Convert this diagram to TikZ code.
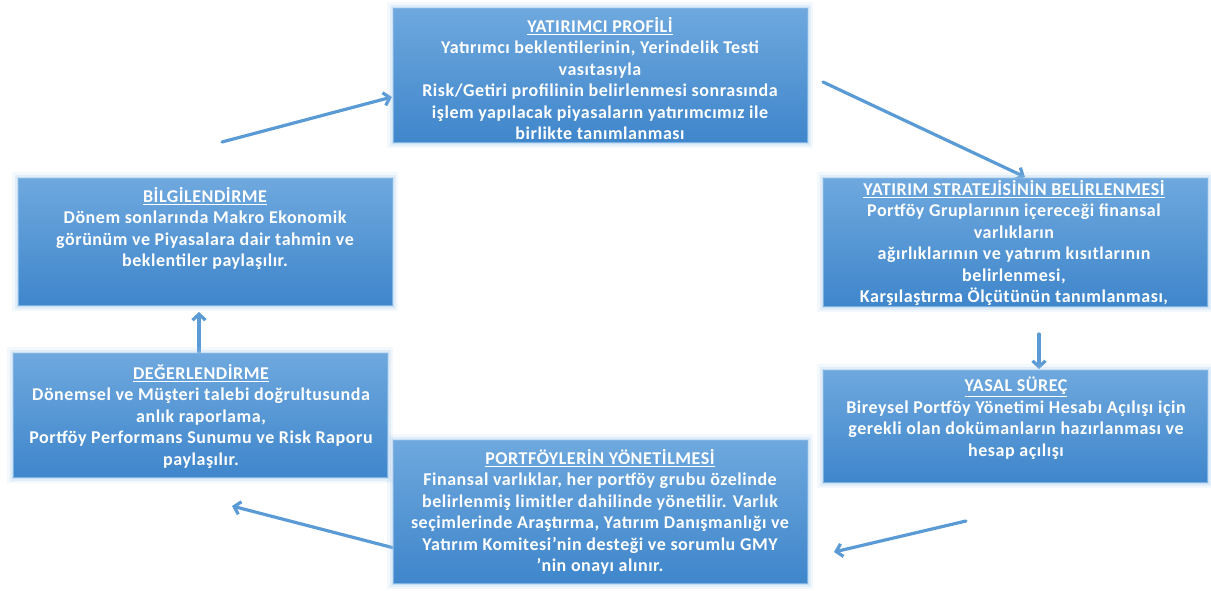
\documentclass[tikz,border=0pt]{standalone}
\usepackage{fontspec}
\setmainfont{Carlito}[LetterSpace=3]
\usetikzlibrary{arrows.meta,calc,backgrounds}
\definecolor{boxtop}{HTML}{6EA8DE}
\definecolor{boxbot}{HTML}{3F86CB}
\definecolor{boxedge}{HTML}{7DB2E3}
\definecolor{glow}{HTML}{9CC3E8}
\definecolor{arrowc}{HTML}{5B9BD5}
\begin{document}
\begin{tikzpicture}[x=1pt,y=-1pt,
  box/.style={rectangle, anchor=north west, inner sep=0pt, top color=boxtop, bottom color=boxbot,
    draw=boxedge, line width=0.6pt,
    preaction={draw=glow, line width=12pt, draw opacity=0.12},
    preaction={draw=glow, line width=7pt, draw opacity=0.2},
    preaction={draw=glow, line width=3pt, draw opacity=0.35}},
  txt/.style={anchor=north, text=white, font=\bfseries\fontsize{18}{21.5}\selectfont, align=center, inner sep=0pt},
  arr/.style={draw=arrowc, line width=3.2pt, line cap=round, -{Straight Barb[length=6pt,width=13pt]}}]
\useasboundingbox (0,0) rectangle (1211,591);

% boxes
\node[box, minimum width=414pt, minimum height=134pt] (prof) at (393,8) {};
\node[box, minimum width=384pt, minimum height=128pt] (strat) at (823,178) {};
\node[box, minimum width=374pt, minimum height=127pt] (bilgi) at (18,178) {};
\node[box, minimum width=374pt, minimum height=124pt] (deger) at (13,353) {};
\node[box, minimum width=384pt, minimum height=112pt] (yasal) at (823,370) {};
\node[box, minimum width=414pt, minimum height=143pt] (port) at (393,440) {};

% texts
\node[txt] (proft) at (600,17) {\underline{YATIRIMCI PROFİLİ}\\Yatırımcı beklentilerinin, Yerindelik Testi\\vasıtasıyla\\Risk/Getiri profilinin belirlenmesi sonrasında\\işlem yapılacak piyasaların yatırımcımız ile\\birlikte tanımlanması};
\node[txt] (stratt) at (1014,180) {\underline{YATIRIM STRATEJİSİNİN BELİRLENMESİ}\\Portföy Gruplarının içereceği finansal\\varlıkların\\ağırlıklarının ve yatırım kısıtlarının\\belirlenmesi,\\Karşılaştırma Ölçütünün tanımlanması,};
\node[txt] (bilgit) at (205,187) {\underline{BİLGİLENDİRME}\\Dönem sonlarında Makro Ekonomik\\görünüm ve Piyasalara dair tahmin ve\\beklentiler paylaşılır.};
\node[txt] (degert) at (201,364) {\underline{DEĞERLENDİRME}\\Dönemsel ve Müşteri talebi doğrultusunda\\anlık raporlama,\\Portföy Performans Sunumu ve Risk Raporu\\paylaşılır.};
\node[txt] (yasalt) at (1016,377) {\underline{YASAL SÜREÇ}\\Bireysel Portföy Yönetimi Hesabı Açılışı için\\gerekli olan dokümanların hazırlanması ve\\hesap açılışı};
\node[txt] (portt) at (600,449) {\underline{PORTFÖYLERİN YÖNETİLMESİ}\\Finansal varlıklar, her portföy grubu özelinde\\belirlenmiş limitler dahilinde yönetilir. Varlık\\seçimlerinde Araştırma, Yatırım Danışmanlığı ve\\Yatırım Komitesi’nin desteği ve sorumlu GMY\\’nin onayı alınır.};

% arrow end points
\coordinate (a1s) at (222,142); \coordinate (a1e) at (392,97);
\coordinate (a2s) at (823,82);  \coordinate (a2e) at (1025,177);
\coordinate (a3s) at (1039,334); \coordinate (a3e) at (1039,369);
\coordinate (a4s) at (966,521); \coordinate (a4e) at (834,552);
\coordinate (a5s) at (398,549); \coordinate (a5e) at (232,506);
\coordinate (a6s) at (199,352); \coordinate (a6e) at (199,312);

\begin{scope}[on background layer]
\draw[arr] (a1s) -- (a1e);
\draw[arr] (a2s) -- (a2e);
\draw[arr] (a3s) -- (a3e);
\draw[arr] (a4s) -- (a4e);
\draw[arr] (a5s) -- (a5e);
\draw[arr] (a6s) -- (a6e);
\end{scope}
\end{tikzpicture}
\end{document}
